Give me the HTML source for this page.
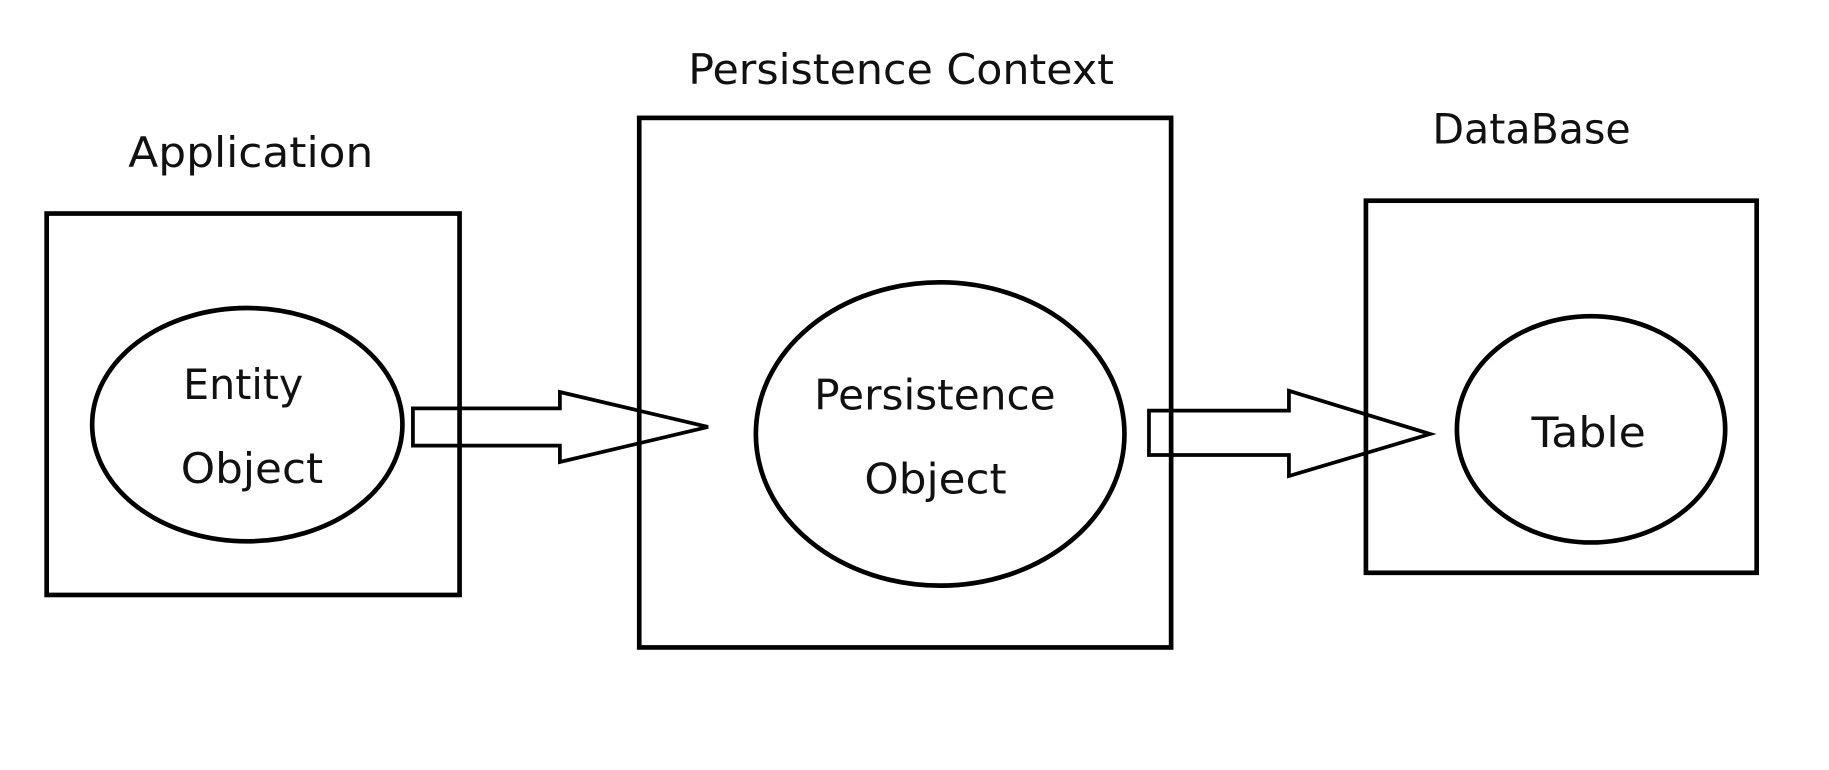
<!DOCTYPE html>
<html><head><meta charset="utf-8"><style>
html,body{margin:0;padding:0;background:#fff;width:1829px;height:770px;overflow:hidden}
svg{display:block}
text{font-family:"DejaVu Sans","Noto Sans CJK KR",sans-serif;fill:#111}
</style></head><body>
<svg width="1829" height="770" viewBox="0 0 1568 660" xmlns="http://www.w3.org/2000/svg">
<rect width="1568" height="660" fill="#fff"/>
<g fill="none" stroke="#000" stroke-width="4">
<rect x="40" y="183" width="354" height="327"/>
<rect x="548" y="101" width="456" height="454"/>
<rect x="1171" y="172" width="335" height="319"/>
<ellipse cx="212" cy="364" rx="133" ry="100"/>
<ellipse cx="806" cy="372" rx="158" ry="130"/>
<ellipse cx="1364" cy="368" rx="115" ry="97"/>
<polygon points="354,350 480,350 480,336 607,366 480,396 480,382 354,382" stroke-width="3.2"/>
<polygon points="985,352 1105,352 1105,335 1226,372 1105,408 1105,390 985,390" stroke-width="3.2"/>
</g>
<g font-size="36" lengthAdjust="spacingAndGlyphs">
<text x="110" y="143" textLength="210" lengthAdjust="spacingAndGlyphs">Application</text>
<text x="590" y="72" textLength="365" lengthAdjust="spacingAndGlyphs">Persistence Context</text>
<text x="1228" y="123" textLength="170" lengthAdjust="spacingAndGlyphs">DataBase</text>
<text x="157" y="342" textLength="103" lengthAdjust="spacingAndGlyphs">Entity</text>
<text x="155" y="414" textLength="122" lengthAdjust="spacingAndGlyphs">Object</text>
<text x="698" y="351" textLength="207" lengthAdjust="spacingAndGlyphs">Persistence</text>
<text x="741" y="423" textLength="122" lengthAdjust="spacingAndGlyphs">Object</text>
<text x="1313" y="383" textLength="98" lengthAdjust="spacingAndGlyphs">Table</text>
</g>
</svg>
</body></html>
